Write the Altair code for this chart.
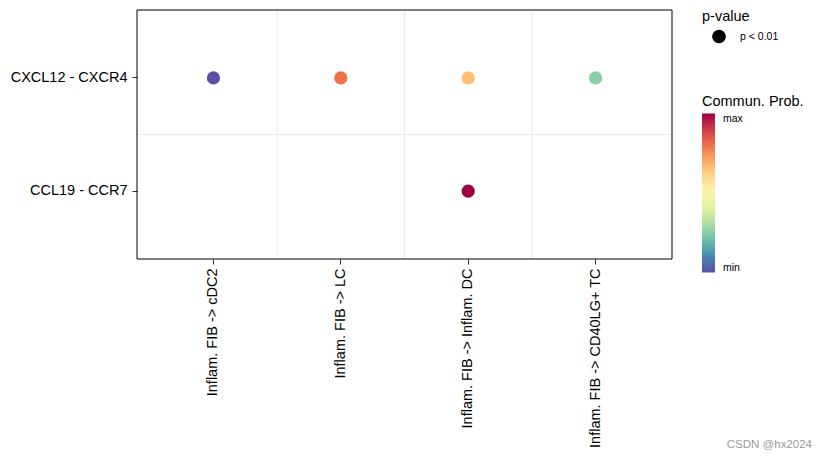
import altair as alt
import pandas as pd

# ---- data ----
x_cats = ["Inflam. FIB -> cDC2", "Inflam. FIB -> LC", "Inflam. FIB -> Inflam. DC", "Inflam. FIB -> CD40LG+ TC"]
y_cats = ["CXCL12 - CXCR4", "CCL19 - CCR7"]
pairs = ["CXCL12 - CXCR4", "CXCL12 - CXCR4", "CXCL12 - CXCR4", "CXCL12 - CXCR4", "CCL19 - CCR7"]
targets = ["Inflam. FIB -> cDC2", "Inflam. FIB -> LC", "Inflam. FIB -> Inflam. DC", "Inflam. FIB -> CD40LG+ TC", "Inflam. FIB -> Inflam. DC"]
prob = [0.0100, 0.0484, 0.0415, 0.0220, 0.0580]
pval = ["p < 0.01"] * 5

df = pd.DataFrame({"target": targets, "pair": pairs, "prob": prob, "pval": pval})
vgrid = pd.DataFrame({"target": x_cats[:-1]})
hgrid = pd.DataFrame({"pair": y_cats[:-1]})

vmin, vmax = min(prob), max(prob)
mid = (vmin + vmax) / 2

FONT = "Liberation Sans"
W, H = 535, 249

x_scale = alt.Scale(domain=x_cats, paddingInner=0, paddingOuter=0.1)
y_scale = alt.Scale(domain=y_cats, paddingInner=0, paddingOuter=0.1)

x_axis = alt.Axis(title=None, labelAngle=270, labelFontSize=14.5, labelColor="#000000",
                  labelFont=FONT, tickColor="#333333", tickSize=5, labelPadding=4,
                  domain=False, grid=False, labelLimit=400)
y_axis = alt.Axis(title=None, labelFontSize=14.5, labelColor="#000000", labelFont=FONT,
                  tickColor="#333333", tickSize=5, labelPadding=5, domain=False, grid=False)

vlines = alt.Chart(vgrid).mark_rule(color="#EBEBEB", strokeWidth=1).encode(
    x=alt.X("target:N", scale=x_scale, axis=x_axis, bandPosition=1)
)
hlines = alt.Chart(hgrid).mark_rule(color="#EBEBEB", strokeWidth=1).encode(
    y=alt.Y("pair:N", scale=y_scale, axis=y_axis, bandPosition=1)
)

points = alt.Chart(df).mark_point(filled=True, size=175, opacity=1, strokeWidth=0).encode(
    x=alt.X("target:N", scale=x_scale, axis=x_axis),
    y=alt.Y("pair:N", scale=y_scale, axis=y_axis),
    color=alt.Color("prob:Q",
                    scale=alt.Scale(scheme="spectral", reverse=True, domain=[vmin, vmax], nice=False, zero=False),
                    legend=alt.Legend(title="Commun. Prob.", orient="none", legendX=565, legendY=85,
                                      values=[vmin, vmax],
                                      labelExpr=f"datum.value > {mid} ? 'max' : 'min'",
                                      gradientLength=159, gradientThickness=13, titlePadding=4,
                                      labelOffset=8, direction="vertical")),
    shape=alt.Shape("pval:N", scale=alt.Scale(domain=["p < 0.01"], range=["circle"]),
                    legend=alt.Legend(title="p-value", orient="none", legendX=565, legendY=0,
                                      symbolFillColor="#000000", symbolStrokeColor="#000000",
                                      symbolSize=150, symbolType="circle", symbolOffset=10,
                                      labelOffset=14, titlePadding=5)),
)

# panel border drawn on top of the grid lines
frame = alt.Chart(pd.DataFrame({"f": [0]})).mark_rect(
    fill=None, fillOpacity=0, stroke="#000000", strokeWidth=1
).encode(x=alt.value(0), x2=alt.value(W), y=alt.value(0), y2=alt.value(H))

watermark = alt.Chart(pd.DataFrame({"t": ["CSDN @hx2024"]})).mark_text(
    align="right", baseline="middle", fontSize=11.5, color="#9a9a9a", font=FONT
).encode(text="t:N", x=alt.value(675), y=alt.value(435))

chart = alt.layer(vlines, hlines, points, frame, watermark).properties(
    width=W, height=H,
    background="white",
    autosize=alt.AutoSizeParams(type="none"),
    padding={"left": 129, "top": 2, "right": 147, "bottom": 193},
).configure_view(
    strokeWidth=0
).configure_legend(
    titleFont=FONT, titleFontSize=14.5, titleFontWeight="normal", titleColor="#000000",
    labelFont=FONT, labelFontSize=10.5, labelColor="#000000"
)

chart.save("out.html", embed_options={"renderer": "svg", "actions": False})
